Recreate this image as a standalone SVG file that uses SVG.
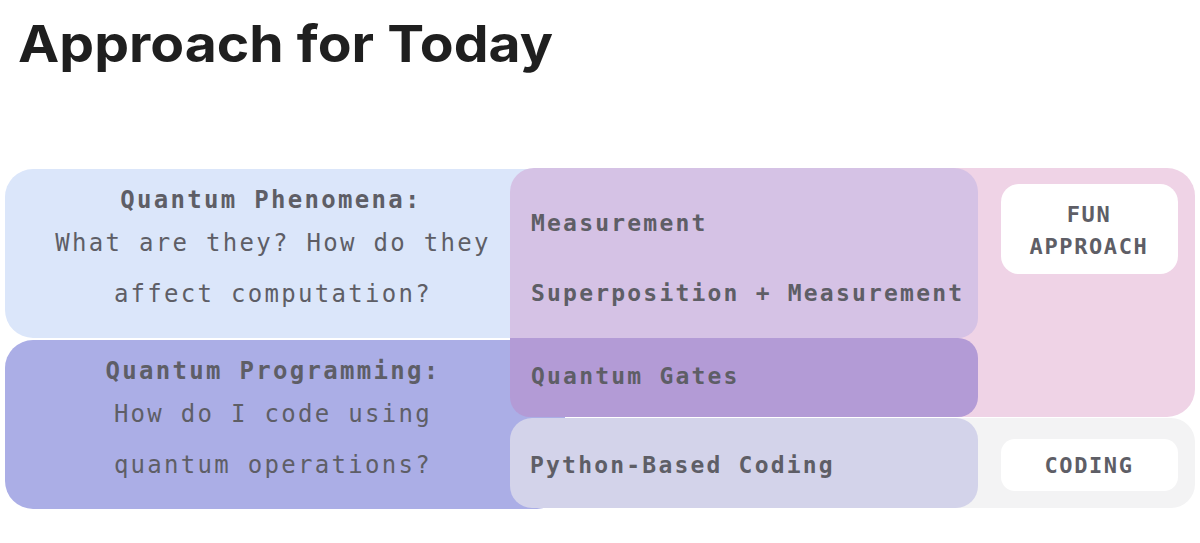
<svg xmlns="http://www.w3.org/2000/svg" width="1200" height="543" viewBox="0 0 1200 543">
<style>
.mono{font-family:"DejaVu Sans Mono","Liberation Mono",monospace;fill:#5e5e66}
.lt{font-size:24px;letter-spacing:2.3px;text-anchor:middle}
.b{font-weight:bold}
.mid{font-size:23px;letter-spacing:2.2px;font-weight:bold}
.tag{font-size:22px;letter-spacing:1.6px;font-weight:bold;text-anchor:middle}
</style>
<rect width="1200" height="543" fill="#ffffff"/>
<text x="18" y="62" font-family="Inter,'Liberation Sans',sans-serif" font-weight="700" font-size="51" fill="#1f1f1f" textLength="535" lengthAdjust="spacingAndGlyphs">Approach for Today</text>
<g id="fun-band"><rect x="900" y="168" width="295" height="249" rx="28" fill="#efd3e6"/></g>
<g id="coding-band"><rect x="900" y="418" width="295" height="90" rx="24" fill="#f3f3f4"/></g>
<g id="phenomena">
<rect x="5" y="169" width="560" height="169" rx="28" fill="#dbe6fa"/>
<text class="mono lt b" x="271" y="208">Quantum Phenomena:</text>
<text class="mono lt" x="273" y="251">What are they? How do they</text>
<text class="mono lt" x="273" y="302">affect computation?</text>
</g>
<g id="programming">
<rect x="5" y="340" width="560" height="169" rx="28" fill="#abaee6"/>
<text class="mono lt b" x="273" y="379">Quantum Programming:</text>
<text class="mono lt" x="273" y="422">How do I code using</text>
<text class="mono lt" x="273" y="473">quantum operations?</text>
</g>
<g id="measurement">
<path d="M534,168 H954 A24,24 0 0 1 978,192 V318 A20,20 0 0 1 958,338 H510 V192 A24,24 0 0 1 534,168 Z" fill="#d5c2e5"/>
<text class="mono mid" x="531" y="231">Measurement</text>
<text class="mono mid" x="531" y="301">Superposition + Measurement</text>
</g>
<g id="gates">
<path d="M510,338 H958 A20,20 0 0 1 978,358 V397 A20,20 0 0 1 958,417 H530 A20,20 0 0 1 510,397 Z" fill="#b39bd6"/>
<text class="mono mid" x="531" y="384">Quantum Gates</text>
</g>
<g id="python">
<rect x="510" y="418" width="468" height="90" rx="22" fill="#d3d3ea"/>
<text class="mono mid" x="530" y="473">Python-Based Coding</text>
</g>
<g id="fun-approach">
<rect x="1001" y="184" width="177" height="90" rx="18" fill="#ffffff"/>
<text class="mono tag" x="1089" y="222">FUN</text>
<text class="mono tag" x="1089" y="254">APPROACH</text>
</g>
<g id="coding">
<rect x="1001" y="439" width="177" height="52" rx="14" fill="#ffffff"/>
<text class="mono tag" x="1089" y="473">CODING</text>
</g>
<g id="connectors"/>
</svg>
